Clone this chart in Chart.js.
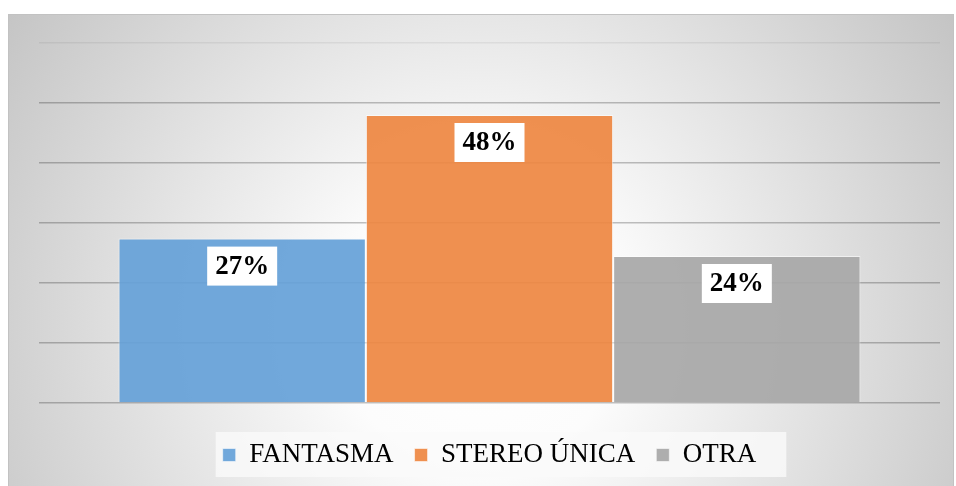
<!DOCTYPE html>
<html>
<head>
<meta charset="utf-8">
<script src="https://cdn.jsdelivr.net/npm/chart.js@4/dist/chart.umd.min.js"></script>
<style>
  html, body { margin: 0; padding: 0; background: #ffffff; }
  .frame {
    position: absolute;
    left: 8px;
    top: 14px;
    width: 944px;
    height: 471px;
    border: 1px solid #c2c2c2;
    border-bottom: none;
  }
  .frame canvas { display: block; }
</style>
</head>
<body>
<div class="frame"><canvas id="chart" width="944" height="471"></canvas></div>
<script>
const categories = [""];
const seriesNames = ["FANTASMA", "STEREO ÚNICA", "OTRA"];
const seriesValues = [27.4, 48, 24.5];
const valueLabels = ["27%", "48%", "24%"];
const yTicks = [0, 10, 20, 30, 40, 50, 60];

const COLORS = [
  "rgba(101, 161, 216, 0.92)",
  "rgba(238, 135, 65, 0.92)",
  "rgba(167, 167, 167, 0.92)",
];

// radial grey background, white in the middle
const backgroundPlugin = {
  id: "bgGradient",
  beforeDraw(chart) {
    const { ctx, width, height } = chart;
    ctx.save();
    const g = ctx.createRadialGradient(470, 310, 0, 470, 310, 570);
    g.addColorStop(0, "#ffffff");
    g.addColorStop(0.25, "#fcfcfc");
    g.addColorStop(1, "#c4c4c4");
    ctx.fillStyle = g;
    ctx.fillRect(0, 0, width, height);

    // light strip behind the legend
    const boxes = chart.legend && chart.legend.legendHitBoxes;
    if (boxes && boxes.length) {
      const left = Math.min(...boxes.map((b) => b.left));
      const right = Math.max(...boxes.map((b) => b.left + b.width));
      const mid = boxes[0].top + boxes[0].height / 2;
      ctx.fillStyle = "rgba(250, 250, 250, 0.8)";
      ctx.fillRect(left - 7, mid - 23, right - left + 37, 45);
    }
    ctx.restore();
  },
};

// white boxed value labels near the top of each bar
const valueLabelPlugin = {
  id: "valueLabels",
  afterDatasetsDraw(chart) {
    const { ctx } = chart;
    ctx.save();
    ctx.font = "bold 27px 'Liberation Serif', 'Times New Roman', serif";
    ctx.textAlign = "center";
    ctx.textBaseline = "middle";
    chart.data.datasets.forEach((ds, i) => {
      const bar = chart.getDatasetMeta(i).data[0];
      if (!bar) return;
      const w = 70;
      const h = 39;
      const top = bar.y + 8;
      ctx.fillStyle = "#ffffff";
      ctx.fillRect(bar.x - w / 2, top, w, h);
      ctx.fillStyle = "#000000";
      ctx.fillText(valueLabels[i], bar.x, top + h / 2 + 1);
    });
    ctx.restore();
  },
};

new Chart(document.getElementById("chart"), {
  type: "bar",
  data: {
    labels: categories,
    datasets: seriesNames.map((name, i) => ({
      label: name,
      data: [seriesValues[i]],
      backgroundColor: COLORS[i],
      borderColor: "rgba(255, 255, 255, 0.55)",
      borderWidth: 1,
      categoryPercentage: 0.8235,
      barPercentage: 1,
    })),
  },
  options: {
    responsive: false,
    animation: false,
    layout: { padding: { left: 30, right: 13, top: 28, bottom: 7.5 } },
    plugins: {
      legend: {
        position: "bottom",
        labels: {
          boxWidth: 13,
          boxHeight: 13,
          padding: 21,
          color: "#000000",
          font: { family: "'Liberation Serif', 'Times New Roman', serif", size: 27 },
        },
      },
      tooltip: { enabled: false },
    },
    scales: {
      x: {
        grid: { display: false },
        border: { display: false },
        ticks: { display: false },
        afterFit(scale) {
          scale.height = 17.5;
        },
      },
      y: {
        min: yTicks[0],
        max: yTicks[yTicks.length - 1],
        afterBuildTicks(scale) {
          scale.ticks = yTicks.map((v) => ({ value: v }));
        },
        border: { display: false },
        ticks: { display: false },
        grid: {
          drawTicks: false,
          lineWidth: 1.5,
          color: (ctx) =>
            ctx.tick && ctx.tick.value === 60
              ? "rgba(0, 0, 0, 0.06)"
              : "rgba(0, 0, 0, 0.24)",
        },
      },
    },
  },
  plugins: [backgroundPlugin, valueLabelPlugin],
});
</script>
</body>
</html>
